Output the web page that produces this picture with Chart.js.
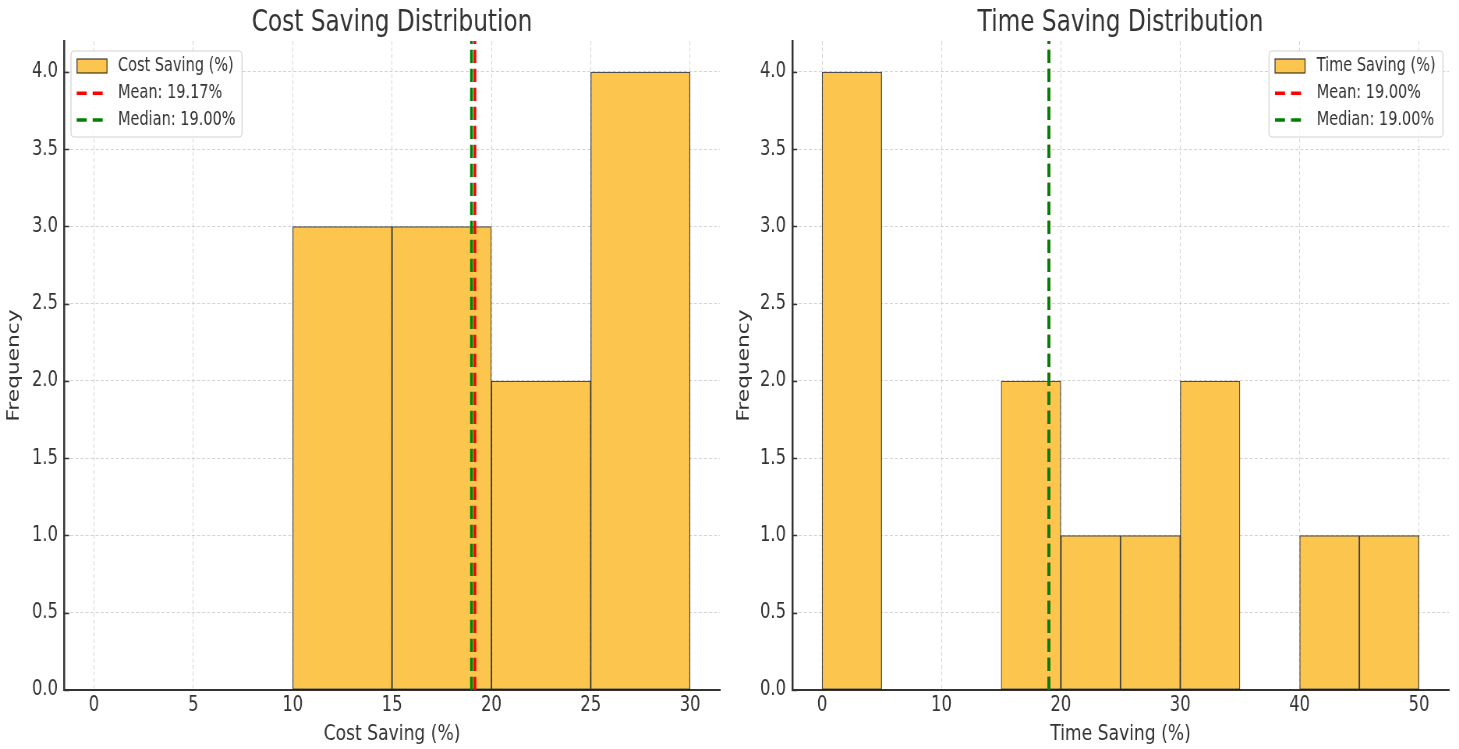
<!DOCTYPE html>
<html><head><meta charset="utf-8">
<script src="https://cdn.jsdelivr.net/npm/chart.js@4/dist/chart.umd.min.js"></script>
<style>
html,body{margin:0;padding:0;background:#fff;overflow:hidden}
#wrap{position:relative;width:1459px;height:749px;background:#fff}
canvas{position:absolute;top:0}
#c1{left:0;width:730px !important;height:749px !important}
#c2{left:730px;width:729px !important;height:749px !important}
</style></head><body>
<div id="wrap">
<canvas id="c1" width="936" height="749" style="width:730px;height:749px"></canvas>
<canvas id="c2" width="935" height="749" style="width:729px;height:749px"></canvas>
</div>
<script>
// ---- data ----
const binWidth = 5;
const costBinStarts = [0, 5, 10, 15, 20, 25];
const costCounts    = [0, 0, 3, 3, 2, 4];
const timeBinStarts = [0, 5, 10, 15, 20, 25, 30, 35, 40, 45];
const timeCounts    = [4, 0, 0, 2, 1, 1, 2, 0, 1, 1];
const costMean = 19.17, costMedian = 19.00;
const timeMean = 19.00, timeMedian = 19.00;
const costXTicks = [0, 5, 10, 15, 20, 25, 30];
const timeXTicks = [0, 10, 20, 30, 40, 50];
const yTicks = [0, 0.5, 1, 1.5, 2, 2.5, 3, 3.5, 4];
const costXRange = [-1.5, 31.5];
const timeXRange = [-2.5, 52.5];
const yRange = [0, 4.2];

// ---- styles ----
const FONT = "'DejaVu Sans', 'Noto Sans', sans-serif";
const TXT = '#333333';
const BAR_FILL = '#fcc54d';
const BAR_EDGE = 'rgba(0,0,0,0.7)';
const GRID = 'rgba(176,176,176,0.55)';

const extras = {
  id: 'extras',
  afterDraw(chart, args, o) {
    const ctx = chart.ctx, ca = chart.chartArea, ys = chart.scales.y;
    ctx.save();
    ctx.strokeStyle = '#333'; ctx.lineWidth = 1.5; ctx.setLineDash([]);
    yTicks.forEach(v => {
      const py = Math.round(ys.getPixelForValue(v)) + 0.5;
      ctx.beginPath(); ctx.moveTo(ca.left, py); ctx.lineTo(ca.left + 6.4, py); ctx.stroke();
    });
    const L = o.legend;
    ctx.beginPath();
    ctx.roundRect(L.x0, L.y0, L.x1 - L.x0, L.y1 - L.y0, 4);
    ctx.fillStyle = 'rgba(255,255,255,0.8)'; ctx.fill();
    ctx.strokeStyle = 'rgba(204,204,204,0.9)'; ctx.lineWidth = 1.2; ctx.stroke();
    ctx.fillStyle = BAR_FILL; ctx.fillRect(L.px0, 59, L.px1 - L.px0, 14);
    ctx.strokeStyle = BAR_EDGE; ctx.lineWidth = 1.3; ctx.strokeRect(L.px0, 59, L.px1 - L.px0, 14);
    const rows = [66, 93.3, 120];
    [['#ff0000', rows[1]], ['#008000', rows[2]]].forEach(([c, yy]) => {
      ctx.strokeStyle = c; ctx.lineWidth = 3.4; ctx.setLineDash([12.8, 7.7]);
      ctx.beginPath(); ctx.moveTo(L.lx0, yy); ctx.lineTo(L.lx1, yy); ctx.stroke();
    });
    ctx.setLineDash([]);
    ctx.fillStyle = TXT; ctx.font = "18.6px " + FONT; ctx.textBaseline = 'middle'; ctx.textAlign = 'left';
    L.labels.forEach((t, i) => ctx.fillText(t, L.tx, rows[i]));
    ctx.restore();
  }
};

function makeChart(id, c) {
  const barData = c.bins.map((b, i) => ({ x: b + binWidth / 2, y: c.counts[i] })).filter(d => d.y > 0);
  return new Chart(document.getElementById(id), {
    type: 'bar',
    data: {
      datasets: [
        { type: 'line', label: 'Median', data: [{ x: c.median, y: yRange[0] }, { x: c.median, y: yRange[1] }],
          borderColor: '#008000', borderWidth: 3.6, borderDash: [13.3, 5.7], pointRadius: 0, fill: false, order: 0 },
        { type: 'line', label: 'Mean', data: [{ x: c.mean, y: yRange[0] }, { x: c.mean, y: yRange[1] }],
          borderColor: '#ff0000', borderWidth: 3.6, borderDash: [13.3, 5.7], pointRadius: 0, fill: false, order: 1 },
        { type: 'bar', label: c.xLabel, data: barData, backgroundColor: BAR_FILL, borderColor: BAR_EDGE,
          borderWidth: 1.3, borderSkipped: false, barPercentage: 1, categoryPercentage: 1, order: 2 }
      ]
    },
    options: {
      responsive: false, animation: false, devicePixelRatio: 1, events: [],
      layout: { padding: { left: 0, right: c.rightPad, top: 0, bottom: 0 } },
      plugins: {
        legend: { display: false }, tooltip: { enabled: false },
        title: { display: true, text: c.title, fullSize: false, color: TXT,
          font: { family: FONT, size: 29.8, weight: 'normal' }, padding: { top: 5.1, bottom: 0.2 } },
        extras: { legend: c.legend }
      },
      scales: {
        x: {
          type: 'linear', min: c.xRange[0], max: c.xRange[1], offset: false,
          afterBuildTicks: s => { s.ticks = c.xTicks.map(v => ({ value: v })); },
          afterFit: s => { s.height = 59; },
          ticks: { callback: v => String(v), color: TXT, font: { family: FONT, size: 21 }, padding: 2.9, maxRotation: 0, autoSkip: false },
          grid: { offset: false, color: GRID, lineWidth: 1, drawTicks: false },
          border: { display: true, color: '#333', width: 2, dash: [4, 2.5] },
          title: { display: true, text: c.xLabel, color: TXT, font: { family: FONT, size: 22 }, padding: { top: 0, bottom: 1.4 } }
        },
        y: {
          min: yRange[0], max: yRange[1],
          afterBuildTicks: s => { s.ticks = yTicks.map(v => ({ value: v })); },
          afterFit: s => { s.width = c.yWidth; },
          ticks: { callback: v => Number(v).toFixed(1), color: TXT, font: { family: FONT, size: 21 }, padding: 8 },
          grid: { color: GRID, lineWidth: 1, drawTicks: false },
          border: { display: true, color: '#333', width: 2.5, dash: [4, 2.5] },
          title: { display: true, text: 'Frequency', color: TXT, font: { family: FONT, size: 21.7 }, padding: { top: 5.5, bottom: 0 } }
        }
      }
    },
    plugins: [extras]
  });
}

makeChart('c1', {
  bins: costBinStarts, counts: costCounts, mean: costMean, median: costMedian,
  xTicks: costXTicks, xRange: costXRange, title: 'Cost Saving Distribution', xLabel: 'Cost Saving (%)',
  yWidth: 82.3, rightPad: 13,
  legend: { x0: 91.0, x1: 310.3, y0: 51, y1: 137, px0: 98.7, px1: 137.2, lx0: 98.3, lx1: 132.5, tx: 151.3,
    labels: ['Cost Saving (%)', 'Mean: ' + costMean.toFixed(2) + '%', 'Median: ' + costMedian.toFixed(2) + '%'] }
});
makeChart('c2', {
  bins: timeBinStarts, counts: timeCounts, mean: timeMean, median: timeMedian,
  xTicks: timeXTicks, xRange: timeXRange, title: 'Time Saving Distribution', xLabel: 'Time Saving (%)',
  yWidth: 79.8, rightPad: 13,
  legend: { x0: 691.3, x1: 914.5, y0: 51, y1: 137, px0: 699, px1: 737.5, lx0: 699, lx1: 732.8, tx: 752.5,
    labels: ['Time Saving (%)', 'Mean: ' + timeMean.toFixed(2) + '%', 'Median: ' + timeMedian.toFixed(2) + '%'] }
});
</script>
</body></html>
